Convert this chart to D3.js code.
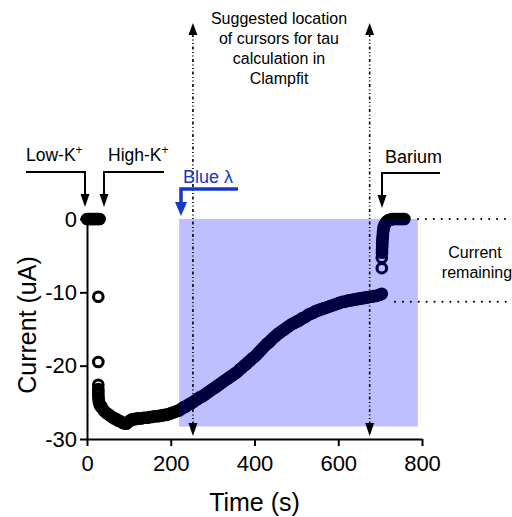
<!DOCTYPE html>
<html>
<head>
<meta charset="utf-8">
<script src="https://cdn.jsdelivr.net/npm/d3@7"></script>
<style>
  body { margin: 0; background: #fff; }
  svg { font-family: "Liberation Sans", Arial, sans-serif; }
  .axis path, .axis line { stroke: #000; stroke-width: 2px; }
  .axis text { font-size: 22px; fill: #000; }
</style>
</head>
<body>
<div id="chart"></div>
<script>
const width = 512;
const height = 517;

// [time (s), current (uA)]
const lowKPoints = [[0, 0], [3, 0], [6, 0], [9, 0], [12, 0], [15, 0], [18, 0], [21, 0], [24, 0], [27, 0], [30, 0]];

const highKDrop = [[27, -10.6], [27, -19.5], [27, -22.6], [27, -23.2], [27, -23.6], [27, -24.0],
  [27.5, -24.4], [28, -24.8], [29, -25.1], [31, -25.4], [33, -25.6]];

const mainTrace = [
  [35, -25.6], [40, -26.1], [45, -26.4], [50, -26.6], [55, -26.8], [60, -27.0], [65, -27.2], [70, -27.3],
  [75, -27.5], [80, -27.6], [85, -27.8], [90, -27.9], [95, -27.9], [100, -27.6], [105, -27.4], [110, -27.3],
  [115, -27.3], [120, -27.2], [125, -27.2], [130, -27.2], [135, -27.1], [140, -27.1], [145, -27.1], [150, -27.0],
  [155, -27.0], [160, -26.9], [165, -26.9], [170, -26.9], [175, -26.8], [180, -26.8], [185, -26.7], [190, -26.7],
  [195, -26.6], [200, -26.5], [205, -26.4], [210, -26.3], [215, -26.2], [220, -26.1], [225, -25.9], [230, -25.7],
  [235, -25.6], [240, -25.4], [245, -25.2], [250, -25.1], [255, -24.9], [260, -24.7], [265, -24.5], [270, -24.3],
  [275, -24.2], [280, -24.0], [285, -23.8], [290, -23.6], [295, -23.4], [300, -23.2], [305, -23.0], [310, -22.8],
  [315, -22.6], [320, -22.4], [325, -22.2], [330, -22.0], [335, -21.8], [340, -21.6], [345, -21.4], [350, -21.2],
  [355, -21.0], [360, -20.8], [365, -20.5], [370, -20.3], [375, -20.0], [380, -19.8], [385, -19.5], [390, -19.3],
  [395, -19.0], [400, -18.8], [405, -18.5], [410, -18.2], [415, -17.9], [420, -17.6], [425, -17.3], [430, -17.0],
  [435, -16.8], [440, -16.5], [445, -16.2], [450, -16.0], [455, -15.7], [460, -15.5], [465, -15.3], [470, -15.1],
  [475, -14.9], [480, -14.7], [485, -14.5], [490, -14.3], [495, -14.2], [500, -14.0], [505, -13.9], [510, -13.7],
  [515, -13.5], [520, -13.4], [525, -13.2], [530, -13.0], [535, -12.9], [540, -12.8], [545, -12.6], [550, -12.5],
  [555, -12.4], [560, -12.3], [565, -12.2], [570, -12.1], [575, -12.0], [580, -11.9], [585, -11.8], [590, -11.7],
  [595, -11.6], [600, -11.5], [605, -11.4], [610, -11.3], [615, -11.3], [620, -11.2], [625, -11.1], [630, -11.1],
  [635, -11.0], [640, -11.0], [645, -10.9], [650, -10.9], [655, -10.8], [660, -10.8], [665, -10.7], [670, -10.7],
  [675, -10.6], [680, -10.6], [685, -10.5], [690, -10.5], [695, -10.4], [700, -10.3]
];

const bariumPoints = [[704, -10.2], [704, -6.7], [704, -5.3], [704.5, -4.6], [704.5, -4.2], [705, -3.8],
  [705, -3.4], [705.5, -3.0], [706, -2.6], [706.5, -2.2], [707, -1.8], [708, -1.4], [709, -1.1], [711, -0.8],
  [713, -0.55], [716, -0.35], [719, -0.2], [723, -0.1], [727, -0.05], [731, 0], [735, 0], [739, 0], [743, 0],
  [747, 0], [751, 0], [755, 0], [758, 0]];

const xTicks = [0, 200, 400, 600, 800];
const yTicks = [0, -10, -20, -30];

// light window (s) and cursor times (s)
const blueWindow = { t0: 220, t1: 790, i0: 0, i1: -28.3 };
const cursorTimes = [253, 675];
const cursorText = ["Suggested location", "of cursors for tau", "calculation in", "Clampfit"];

const allPoints = lowKPoints.concat(highKDrop, mainTrace, bariumPoints);

const svg = d3.select("#chart")
  .append("svg")
  .attr("width", width)
  .attr("height", height);

const x = d3.scaleLinear().domain([0, 800]).range([87, 422]);
const y = d3.scaleLinear().domain([-30, 0]).range([439, 219]);

// arrow head helper, tip at (tx, ty), pointing up or down
function arrowHead(tx, ty, dir, w, h, color) {
  const s = dir === "down" ? -1 : 1;
  svg.append("path")
    .attr("d", "M" + tx + "," + ty + "L" + (tx - w / 2) + "," + (ty + s * h) +
      "L" + (tx + w / 2) + "," + (ty + s * h) + "Z")
    .attr("fill", color);
}

// data points
svg.append("g")
  .selectAll("circle")
  .data(allPoints)
  .enter()
  .append("circle")
  .attr("cx", function(d) { return x(d[0]); })
  .attr("cy", function(d) { return y(d[1]); })
  .attr("r", 4.8)
  .attr("fill", "none")
  .attr("stroke", "#000")
  .attr("stroke-width", 3.1);

// blue light window on top of points
svg.append("rect")
  .attr("x", x(blueWindow.t0))
  .attr("y", y(blueWindow.i0))
  .attr("width", x(blueWindow.t1) - x(blueWindow.t0))
  .attr("height", y(blueWindow.i1) - y(blueWindow.i0))
  .attr("fill", "rgba(0,0,255,0.25)");

// axes
svg.append("g")
  .attr("class", "axis")
  .attr("transform", "translate(0," + y(-30) + ")")
  .call(d3.axisBottom(x).tickValues(xTicks).tickSize(7).tickSizeOuter(0).tickPadding(9));

svg.append("g")
  .attr("class", "axis")
  .attr("transform", "translate(" + x(0) + ",0)")
  .call(d3.axisLeft(y).tickValues(yTicks).tickSize(7).tickSizeOuter(0).tickPadding(3)
    .tickFormat(function(d) { return d < 0 ? "-" + Math.abs(d) : d; }));

svg.append("text")
  .attr("x", (x(0) + x(800)) / 2)
  .attr("y", 511)
  .attr("text-anchor", "middle")
  .attr("font-size", "25px")
  .text("Time (s)");

svg.append("text")
  .attr("transform", "translate(36," + 325 + ") rotate(-90)")
  .attr("text-anchor", "middle")
  .attr("font-size", "25px")
  .text("Current (uA)");

// cursor lines
cursorTimes.forEach(function(t) {
  const cx = x(t);
  svg.append("line")
    .attr("x1", cx).attr("x2", cx)
    .attr("y1", 34).attr("y2", 423)
    .attr("stroke", "#000")
    .attr("stroke-width", 1.6)
    .attr("stroke-dasharray", "3,2.5,1,2.5,1,2.5");
  arrowHead(cx, 23, "up", 9, 12, "#000");
  arrowHead(cx, 436, "down", 9, 13, "#000");
});

svg.append("g")
  .selectAll("text")
  .data(cursorText)
  .enter()
  .append("text")
  .attr("x", 279)
  .attr("y", function(d, i) { return 24 + i * 20; })
  .attr("text-anchor", "middle")
  .attr("font-size", "16px")
  .text(function(d) { return d; });

// elbow line: horizontal then down to an arrow
function elbow(x1, x2, xv, yTop, tipY, color, sw) {
  svg.append("line")
    .attr("x1", x1).attr("x2", x2)
    .attr("y1", yTop).attr("y2", yTop)
    .attr("stroke", color).attr("stroke-width", sw);
  svg.append("line")
    .attr("x1", xv).attr("x2", xv)
    .attr("y1", yTop - sw / 2).attr("y2", tipY - 10)
    .attr("stroke", color).attr("stroke-width", sw);
}

// Low-K+ and High-K+ labels
elbow(26, 86, 85, 172, 207, "#000", 2);
arrowHead(85, 207, "down", 9, 13, "#000");
elbow(103, 164, 104, 172, 207, "#000", 2);
arrowHead(104, 207, "down", 9, 13, "#000");

const lowK = svg.append("text").attr("x", 26).attr("y", 161).attr("font-size", "17.5px");
lowK.append("tspan").text("Low-K");
lowK.append("tspan").attr("dy", -7).attr("font-size", "12px").text("+");

const highK = svg.append("text").attr("x", 108).attr("y", 161).attr("font-size", "17.5px");
highK.append("tspan").text("High-K");
highK.append("tspan").attr("dy", -7).attr("font-size", "12px").text("+");

// Blue light label
const blue = "#1438c8";
svg.append("text")
  .attr("x", 183).attr("y", 183)
  .attr("font-size", "18px")
  .attr("fill", blue)
  .text("Blue λ");
svg.append("path")
  .attr("d", "M238,189H181V204")
  .attr("stroke", blue).attr("stroke-width", 3.5).attr("fill", "none");
arrowHead(181, 216, "down", 12, 14, blue);

// Barium label
svg.append("text")
  .attr("x", 385).attr("y", 163)
  .attr("font-size", "18px")
  .text("Barium");
elbow(381, 440, 382, 173, 208, "#000", 2);
arrowHead(382, 208, "down", 9, 13, "#000");

// current remaining markers
[[0, 418], [-11.3, 395]].forEach(function(d) {
  svg.append("line")
    .attr("x1", d[1]).attr("x2", 512)
    .attr("y1", y(d[0])).attr("y2", y(d[0]))
    .attr("stroke", "#000")
    .attr("stroke-width", 2)
    .attr("stroke-linecap", "round")
    .attr("stroke-dasharray", "0.1,7.8");
});

svg.append("text")
  .attr("x", 475).attr("y", 258)
  .attr("text-anchor", "middle")
  .attr("font-size", "16px")
  .text("Current");
svg.append("text")
  .attr("x", 477).attr("y", 278)
  .attr("text-anchor", "middle")
  .attr("font-size", "16px")
  .text("remaining");
</script>
</body>
</html>
